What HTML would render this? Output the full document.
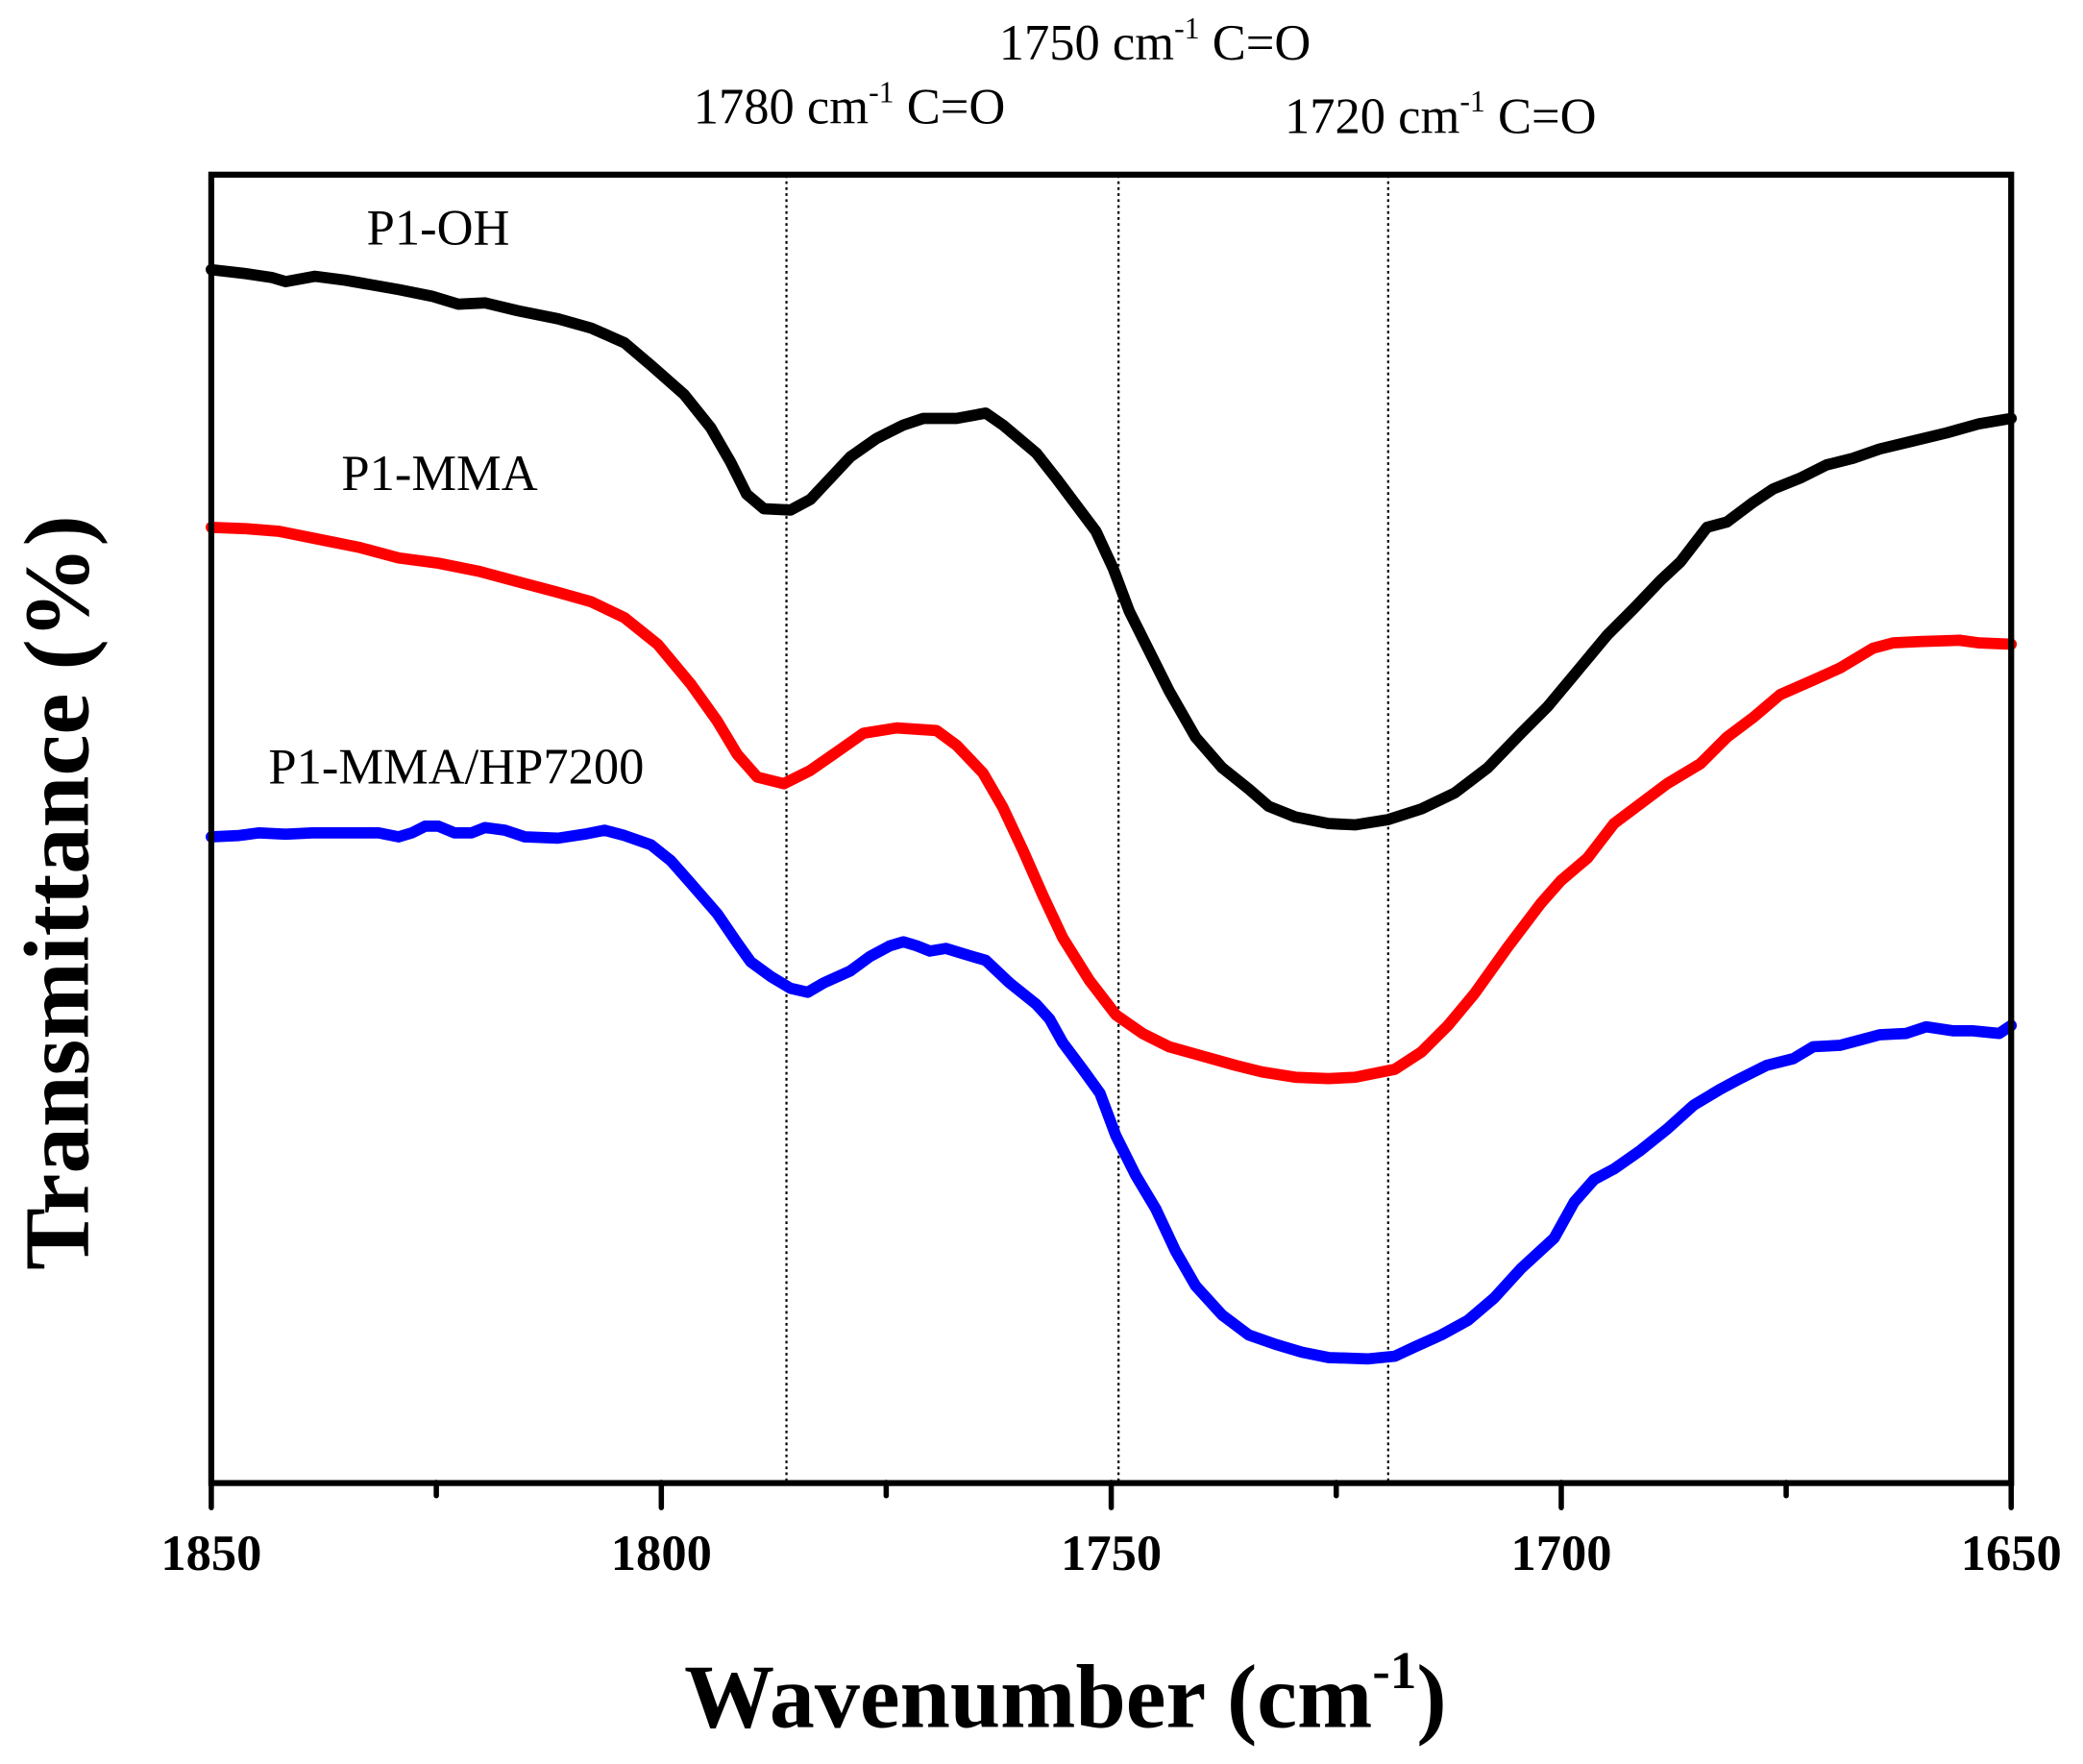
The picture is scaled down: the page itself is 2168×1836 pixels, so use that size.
<!DOCTYPE html>
<html><head><meta charset="utf-8"><style>html,body{margin:0;padding:0;background:#fff}svg{display:block}</style></head>
<body>
<svg width="2168" height="1836" viewBox="0 0 1568 1328" xmlns="http://www.w3.org/2000/svg" font-family="Liberation Serif, serif">
<rect width="1568" height="1328" fill="#fff"/>
<g stroke="#000" stroke-width="1.6" stroke-dasharray="2,2.5" fill="none">
<line x1="592" y1="132" x2="592" y2="1116"/>
<line x1="842" y1="132" x2="842" y2="1116"/>
<line x1="1045" y1="132" x2="1045" y2="1116"/>
</g>
<g fill="none" stroke-width="8.5" stroke-linejoin="round" stroke-linecap="round">
<polyline stroke="#000" points="159,203 185,206 205,209 215,212 237,208 260,211 300,218 325,223 345,229 365,228 390,234 420,240 445,247 470,258 490,275 515,297 535,322 550,348 562,372 575,383 595,384 610,376 625,360 640,344 660,330 680,320 695,315 720,315 742,311 755,320 780,341 795,360 810,380 825,400 838,428 850,460 865,490 880,520 900,555 920,578 940,594 955,607 975,615 1000,620 1020,621 1045,617 1070,609 1095,597 1120,578 1145,552 1165,532 1185,508 1210,478 1230,458 1250,437 1265,423 1285,397 1300,393 1320,378 1335,368 1355,360 1375,350 1395,345 1415,338 1440,332 1465,326 1490,319 1514,315"/>
<polyline stroke="#f00" points="159,397 185,398 210,400 240,406 270,412 300,420 330,424 360,430 390,438 420,446 445,453 470,465 495,485 520,515 540,543 555,568 570,585 590,590 610,580 630,566 650,552 675,548 705,550 720,561 740,582 755,608 770,640 785,674 800,706 820,738 840,764 860,778 880,788 905,795 930,802 950,807 975,811 1000,812 1020,811 1050,805 1070,792 1090,772 1110,748 1135,713 1160,680 1175,663 1195,646 1215,620 1235,605 1255,590 1280,575 1300,555 1320,540 1340,523 1365,512 1385,503 1410,488 1425,484 1445,483 1475,482 1490,484 1514,485"/>
<polyline stroke="#00f" points="159,630 180,629 195,627 215,628 235,627 260,627 285,627 300,630 310,627 320,622 330,622 342,627 355,627 365,623 380,625 395,630 420,631 440,628 455,625 470,629 490,636 505,648 520,665 540,688 555,710 565,724 580,735 595,744 608,747 620,740 640,731 655,720 670,712 680,709 690,712 700,716 712,714 725,718 742,723 760,740 780,756 790,767 800,785 815,805 828,823 840,855 855,885 870,910 885,942 900,968 920,990 940,1005 960,1012 980,1018 1000,1022 1030,1023 1050,1021 1065,1014 1085,1005 1105,994 1125,977 1145,955 1170,932 1185,905 1200,888 1215,880 1235,866 1255,850 1275,832 1295,820 1310,812 1330,802 1350,797 1365,788 1385,787 1400,783 1415,779 1435,778 1450,773 1470,776 1485,776 1505,778 1514,772"/>
</g>
<rect x="159" y="131.5" width="1355" height="985" fill="none" stroke="#000" stroke-width="4.5"/>
<g stroke="#000" stroke-width="4" stroke-linecap="round">
<line x1="159" y1="1116" x2="159" y2="1135"/><line x1="497.8" y1="1116" x2="497.8" y2="1135"/><line x1="836.5" y1="1116" x2="836.5" y2="1135"/><line x1="1175.3" y1="1116" x2="1175.3" y2="1135"/><line x1="1514" y1="1116" x2="1514" y2="1135"/>
<line x1="328.4" y1="1116" x2="328.4" y2="1126"/><line x1="667.1" y1="1116" x2="667.1" y2="1126"/><line x1="1005.9" y1="1116" x2="1005.9" y2="1126"/><line x1="1344.6" y1="1116" x2="1344.6" y2="1126"/>
</g>
<g font-weight="bold" font-size="38" text-anchor="middle">
<text x="159" y="1182">1850</text><text x="497.8" y="1182">1800</text><text x="836.5" y="1182">1750</text><text x="1175.3" y="1182">1700</text><text x="1514" y="1182">1650</text>
</g>
<text x="802" y="1300" font-weight="bold" font-size="68" text-anchor="middle">Wavenumber (cm<tspan font-size="40" dy="-29">-1</tspan><tspan dy="29">)</tspan></text>
<text transform="translate(66,672) rotate(-90)" font-weight="bold" font-size="70" text-anchor="middle">Transmittance (%)</text>
<g font-size="38">
<text x="522" y="93">1780 cm<tspan font-size="23" dy="-16">-1</tspan><tspan dy="16"> C=O</tspan></text>
<text x="752" y="45">1750 cm<tspan font-size="23" dy="-16">-1</tspan><tspan dy="16"> C=O</tspan></text>
<text x="967" y="100">1720 cm<tspan font-size="23" dy="-16">-1</tspan><tspan dy="16"> C=O</tspan></text>
<text x="276" y="184">P1-OH</text>
<text x="257" y="369">P1-MMA</text>
<text x="202" y="590">P1-MMA/HP7200</text>
</g>
</svg>
</body></html>
